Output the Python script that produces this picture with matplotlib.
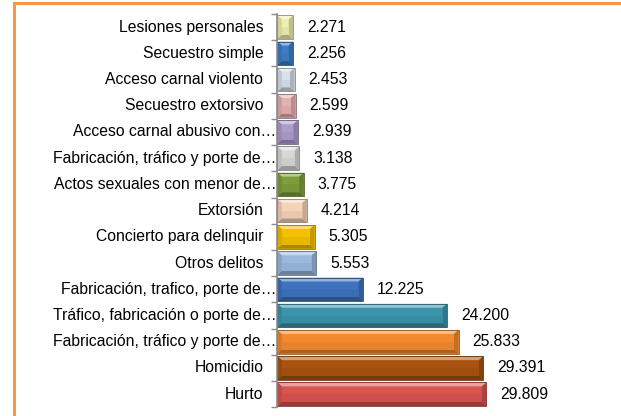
import matplotlib
matplotlib.use("Agg")
import matplotlib.pyplot as plt
import matplotlib.colors as mcolors
from matplotlib.patches import Polygon
from matplotlib.lines import Line2D
import matplotlib.transforms as mtransforms

plt.rcParams['font.family'] = ['Liberation Sans', 'DejaVu Sans']

# data, bottom to top
categories = [
    "Hurto",
    "Homicidio",
    "Fabricación, tráfico y porte de…",
    "Tráfico, fabricación o porte de…",
    "Fabricación, trafico, porte de…",
    "Otros delitos",
    "Concierto para delinquir",
    "Extorsión",
    "Actos sexuales con menor de…",
    "Fabricación, tráfico y porte de…",
    "Acceso carnal abusivo con…",
    "Secuestro extorsivo",
    "Acceso carnal violento",
    "Secuestro simple",
    "Lesiones personales",
]
values = [29809, 29391, 25833, 24200, 12225, 5553, 5305, 4214, 3775, 3138,
          2939, 2599, 2453, 2256, 2271]
colors = ["#D9534F", "#A8530F", "#F28A2E", "#3C94AC", "#3D73BE", "#9BB8DE",
          "#F5C000", "#F6D3B8", "#7E9E3C", "#D8D8D8", "#AE9CCB", "#E2B1B0",
          "#D8E0EC", "#3E7DC6", "#F1EEB0"]

FS = 11.3

fig = plt.figure(figsize=(6.21, 4.16), dpi=100)
ax = fig.add_axes([277.3 / 621, (416 - 407.3) / 416, (600 - 277.3) / 621, (407.3 - 14) / 416])

pos = list(range(len(values)))
bars = ax.barh(pos, values, height=0.9, color=colors, edgecolor="none")
ax.set_xlim(0, 46000)
ax.set_ylim(-0.5, len(values) - 0.5)


def shade(c, f):
    r, g, b = mcolors.to_rgb(c)
    if f > 0:
        return (r + (1 - r) * f, g + (1 - g) * f, b + (1 - b) * f)
    return (r * (1 + f), g * (1 + f), b * (1 + f))


# bevel look, sizes in pixels converted to data units
bb = ax.get_window_extent()
px_x = 46000 / bb.width
px_y = len(values) / bb.height
for bar, col in zip(bars, colors):
    x0, y0 = bar.get_x(), bar.get_y()
    w, h = bar.get_width(), bar.get_height()
    bx = min(4.5 * px_x, w / 2)
    by = min(4 * px_y, h / 2)
    x1, y1 = x0 + w, y0 + h
    ax.add_patch(Polygon([(x0, y1), (x1, y1), (x1 - bx, y1 - by), (x0 + bx, y1 - by)],
                         color=shade(col, 0.45), lw=0))
    ax.add_patch(Polygon([(x0, y0), (x1, y0), (x1 - bx, y0 + by), (x0 + bx, y0 + by)],
                         color=shade(col, -0.3), lw=0))
    ax.add_patch(Polygon([(x0, y0), (x0, y1), (x0 + bx, y1 - by), (x0 + bx, y0 + by)],
                         color=shade(col, -0.12), lw=0))
    ax.add_patch(Polygon([(x1, y0), (x1, y1), (x1 - bx, y1 - by), (x1 - bx, y0 + by)],
                         color=shade(col, -0.2), lw=0))
    ax.add_patch(Polygon([(x0 + bx, y0 + by), (x1 - bx, y0 + by), (x1 - bx, y0 + h / 2),
                          (x0 + bx, y0 + h / 2)], color=shade(col, -0.05), lw=0))
    ax.add_patch(Polygon([(x0, y0), (x1, y0), (x1, y1), (x0, y1)], closed=True,
                         fill=False, ec=shade(col, -0.4), lw=0.6))

for p, v in zip(pos, values):
    ax.annotate(f"{v:,}".replace(",", "."), (v, p), xytext=(10, 0),
                textcoords="offset points", va="center", ha="left", fontsize=FS)

# category labels, truncated ones run up to the axis
for p, name in zip(pos, categories):
    off = -1 if name.endswith("…") else -14
    tr = ax.get_yaxis_transform() + mtransforms.ScaledTranslation(off / 100, 0, fig.dpi_scale_trans)
    ax.text(0, p, name, transform=tr, ha="right", va="center", fontsize=FS)

ax.set_yticks([p - 0.5 for p in pos] + [len(values) - 0.5])
ax.set_yticklabels([])
ax.tick_params(axis="y", length=4, width=1, color="#8C8C8C", direction="out")
ax.set_xticks([])
for s in ["top", "right", "bottom"]:
    ax.spines[s].set_visible(False)
ax.spines["left"].set_color("#8C8C8C")
ax.spines["left"].set_linewidth(1.2)

# orange frame
fig.add_artist(Line2D([14 / 621, 1], [1 - 3 / 416, 1 - 3 / 416], color="#F79646", lw=2.2))
fig.add_artist(Line2D([14 / 621, 14 / 621], [0, 1 - 3 / 416], color="#F79646", lw=2.2))

fig.savefig("out.png", dpi=100)
